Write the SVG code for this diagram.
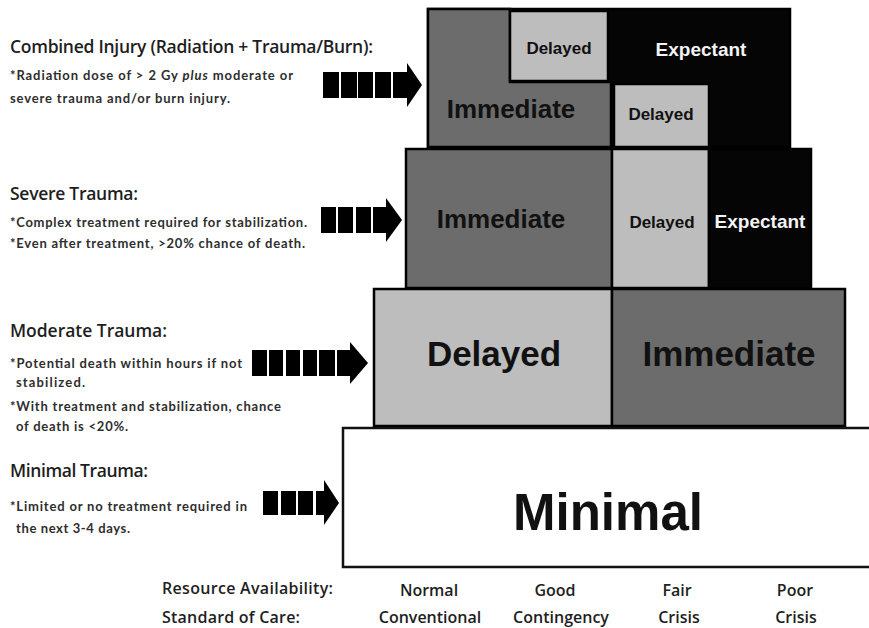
<svg xmlns="http://www.w3.org/2000/svg" width="869" height="628" viewBox="0 0 869 628">
<style>
.dark{fill:#6c6c6c;stroke:#000;stroke-width:2.5}
.light{fill:#bdbdbd;stroke:#000;stroke-width:2.5}
.black{fill:#050505;stroke:#000;stroke-width:2.5}
.white{fill:#fff;stroke:#111;stroke-width:2.5}
.lbl{font-family:"Liberation Sans",Arial,sans-serif;font-weight:bold;text-anchor:middle;fill:#111}
.wl{fill:#f4f4f4}
.hd{font-family:"Open Sans","Liberation Sans",sans-serif;font-size:17.5px;font-weight:600;fill:#1e1e1e}
.sub{font-family:Lato,"Liberation Sans",sans-serif;font-size:13px;font-weight:bold;fill:#2e2e2e}
.ax{font-family:"Open Sans","Liberation Sans",sans-serif;font-size:16px;font-weight:600;fill:#1e1e1e}
.axc{font-family:"Open Sans","Liberation Sans",sans-serif;font-size:16px;font-weight:600;fill:#1e1e1e;text-anchor:middle}
.arr{fill:#000}
</style>
<rect width="869" height="628" fill="#fff"/>

<g id="tier-combined">
  <rect class="black" x="428" y="9" width="362" height="138"/>
  <path class="dark" d="M428,9 H510 V82 H611 V147 H428 Z"/>
  <rect class="light" x="510" y="11" width="98" height="70"/>
  <rect class="light" x="614" y="84" width="95" height="63"/>
  <text class="lbl" x="559" y="54" font-size="17">Delayed</text>
  <text class="lbl wl" x="701" y="56" font-size="19">Expectant</text>
  <text class="lbl" x="511" y="118" font-size="26">Immediate</text>
  <text class="lbl" x="661" y="120" font-size="17">Delayed</text>
</g>

<g id="tier-severe">
  <rect class="dark" x="406" y="149" width="206" height="139"/>
  <rect class="light" x="612" y="149" width="97" height="139"/>
  <rect class="black" x="709" y="149" width="102" height="139"/>
  <text class="lbl" x="501" y="228" font-size="26">Immediate</text>
  <text class="lbl" x="662" y="228" font-size="17">Delayed</text>
  <text class="lbl wl" x="760" y="228" font-size="19">Expectant</text>
</g>

<g id="tier-moderate">
  <rect class="light" x="374" y="289" width="238" height="137"/>
  <rect class="dark" x="612" y="289" width="233" height="137"/>
  <text class="lbl" x="494" y="366" font-size="35">Delayed</text>
  <text class="lbl" x="729" y="366" font-size="35">Immediate</text>
</g>

<g id="tier-minimal">
  <rect class="white" x="343" y="428" width="540" height="139"/>
  <text class="lbl" x="608" y="530" font-size="51">Minimal</text>
</g>

<g id="desc-combined">
  <text class="hd" x="10" y="53" textLength="363">Combined Injury (Radiation + Trauma/Burn):</text>
  <text class="sub" x="10" y="80" textLength="283">*Radiation dose of &gt; 2 Gy <tspan font-style="italic">plus</tspan> moderate or</text>
  <text class="sub" x="10" y="103" textLength="220">severe trauma and/or burn injury.</text>
</g>
<g id="desc-severe">
  <text class="hd" x="10" y="200" textLength="128">Severe Trauma:</text>
  <text class="sub" x="10" y="227" textLength="297">*Complex treatment required for stabilization.</text>
  <text class="sub" x="10" y="248" textLength="295">*Even after treatment, &gt;20% chance of death.</text>
</g>
<g id="desc-moderate">
  <text class="hd" x="10" y="337" textLength="157">Moderate Trauma:</text>
  <text class="sub" x="10" y="368" textLength="232">*Potential death within hours if not</text>
  <text class="sub" x="16" y="387" textLength="69">stabilized.</text>
  <text class="sub" x="10" y="411" textLength="271">*With treatment and stabilization, chance</text>
  <text class="sub" x="16" y="431" textLength="112">of death is &lt;20%.</text>
</g>
<g id="desc-minimal">
  <text class="hd" x="10" y="477" textLength="138">Minimal Trauma:</text>
  <text class="sub" x="10" y="511" textLength="237">*Limited or no treatment required in</text>
  <text class="sub" x="16" y="533" textLength="114">the next 3-4 days.</text>
</g>

<g id="axis">
  <text class="ax" x="162" y="594" textLength="171">Resource Availability:</text>
  <text class="ax" x="162" y="623" textLength="138">Standard of Care:</text>
  <text class="axc" x="429" y="596">Normal</text>
  <text class="axc" x="555" y="596">Good</text>
  <text class="axc" x="677" y="596">Fair</text>
  <text class="axc" x="795" y="596">Poor</text>
  <text class="axc" x="430" y="623">Conventional</text>
  <text class="axc" x="561" y="623">Contingency</text>
  <text class="axc" x="679" y="623">Crisis</text>
  <text class="axc" x="796" y="623">Crisis</text>
</g>

<g id="connectors">
  <g id="arrow-combined" class="arr">
    <rect x="323" y="72" width="16" height="26"/>
    <rect x="341" y="72" width="16" height="26"/>
    <rect x="358" y="72" width="15" height="26"/>
    <rect x="375" y="72" width="16" height="26"/>
    <path d="M393,72 H407 V63 L422,85 L407,107 V98 H393 Z"/>
  </g>
  <g id="arrow-severe" class="arr">
    <rect x="321" y="207" width="15" height="26"/>
    <rect x="338" y="207" width="15" height="26"/>
    <rect x="356" y="207" width="15" height="26"/>
    <path d="M373,207 H386 V198 L402,220 L386,242 V233 H373 Z"/>
  </g>
  <g id="arrow-moderate" class="arr">
    <rect x="252" y="350" width="15" height="26"/>
    <rect x="269" y="350" width="14" height="26"/>
    <rect x="286" y="350" width="14" height="26"/>
    <rect x="303" y="350" width="14" height="26"/>
    <rect x="319" y="350" width="16" height="26"/>
    <path d="M337,350 H350 V342 L368,363 L350,384 V376 H337 Z"/>
  </g>
  <g id="arrow-minimal" class="arr">
    <rect x="263" y="491" width="15" height="24"/>
    <rect x="281" y="491" width="15" height="24"/>
    <rect x="298" y="491" width="15" height="24"/>
    <path d="M316,491 H324 V480 L339,503 L324,525 V515 H316 Z"/>
  </g>
</g>
</svg>
